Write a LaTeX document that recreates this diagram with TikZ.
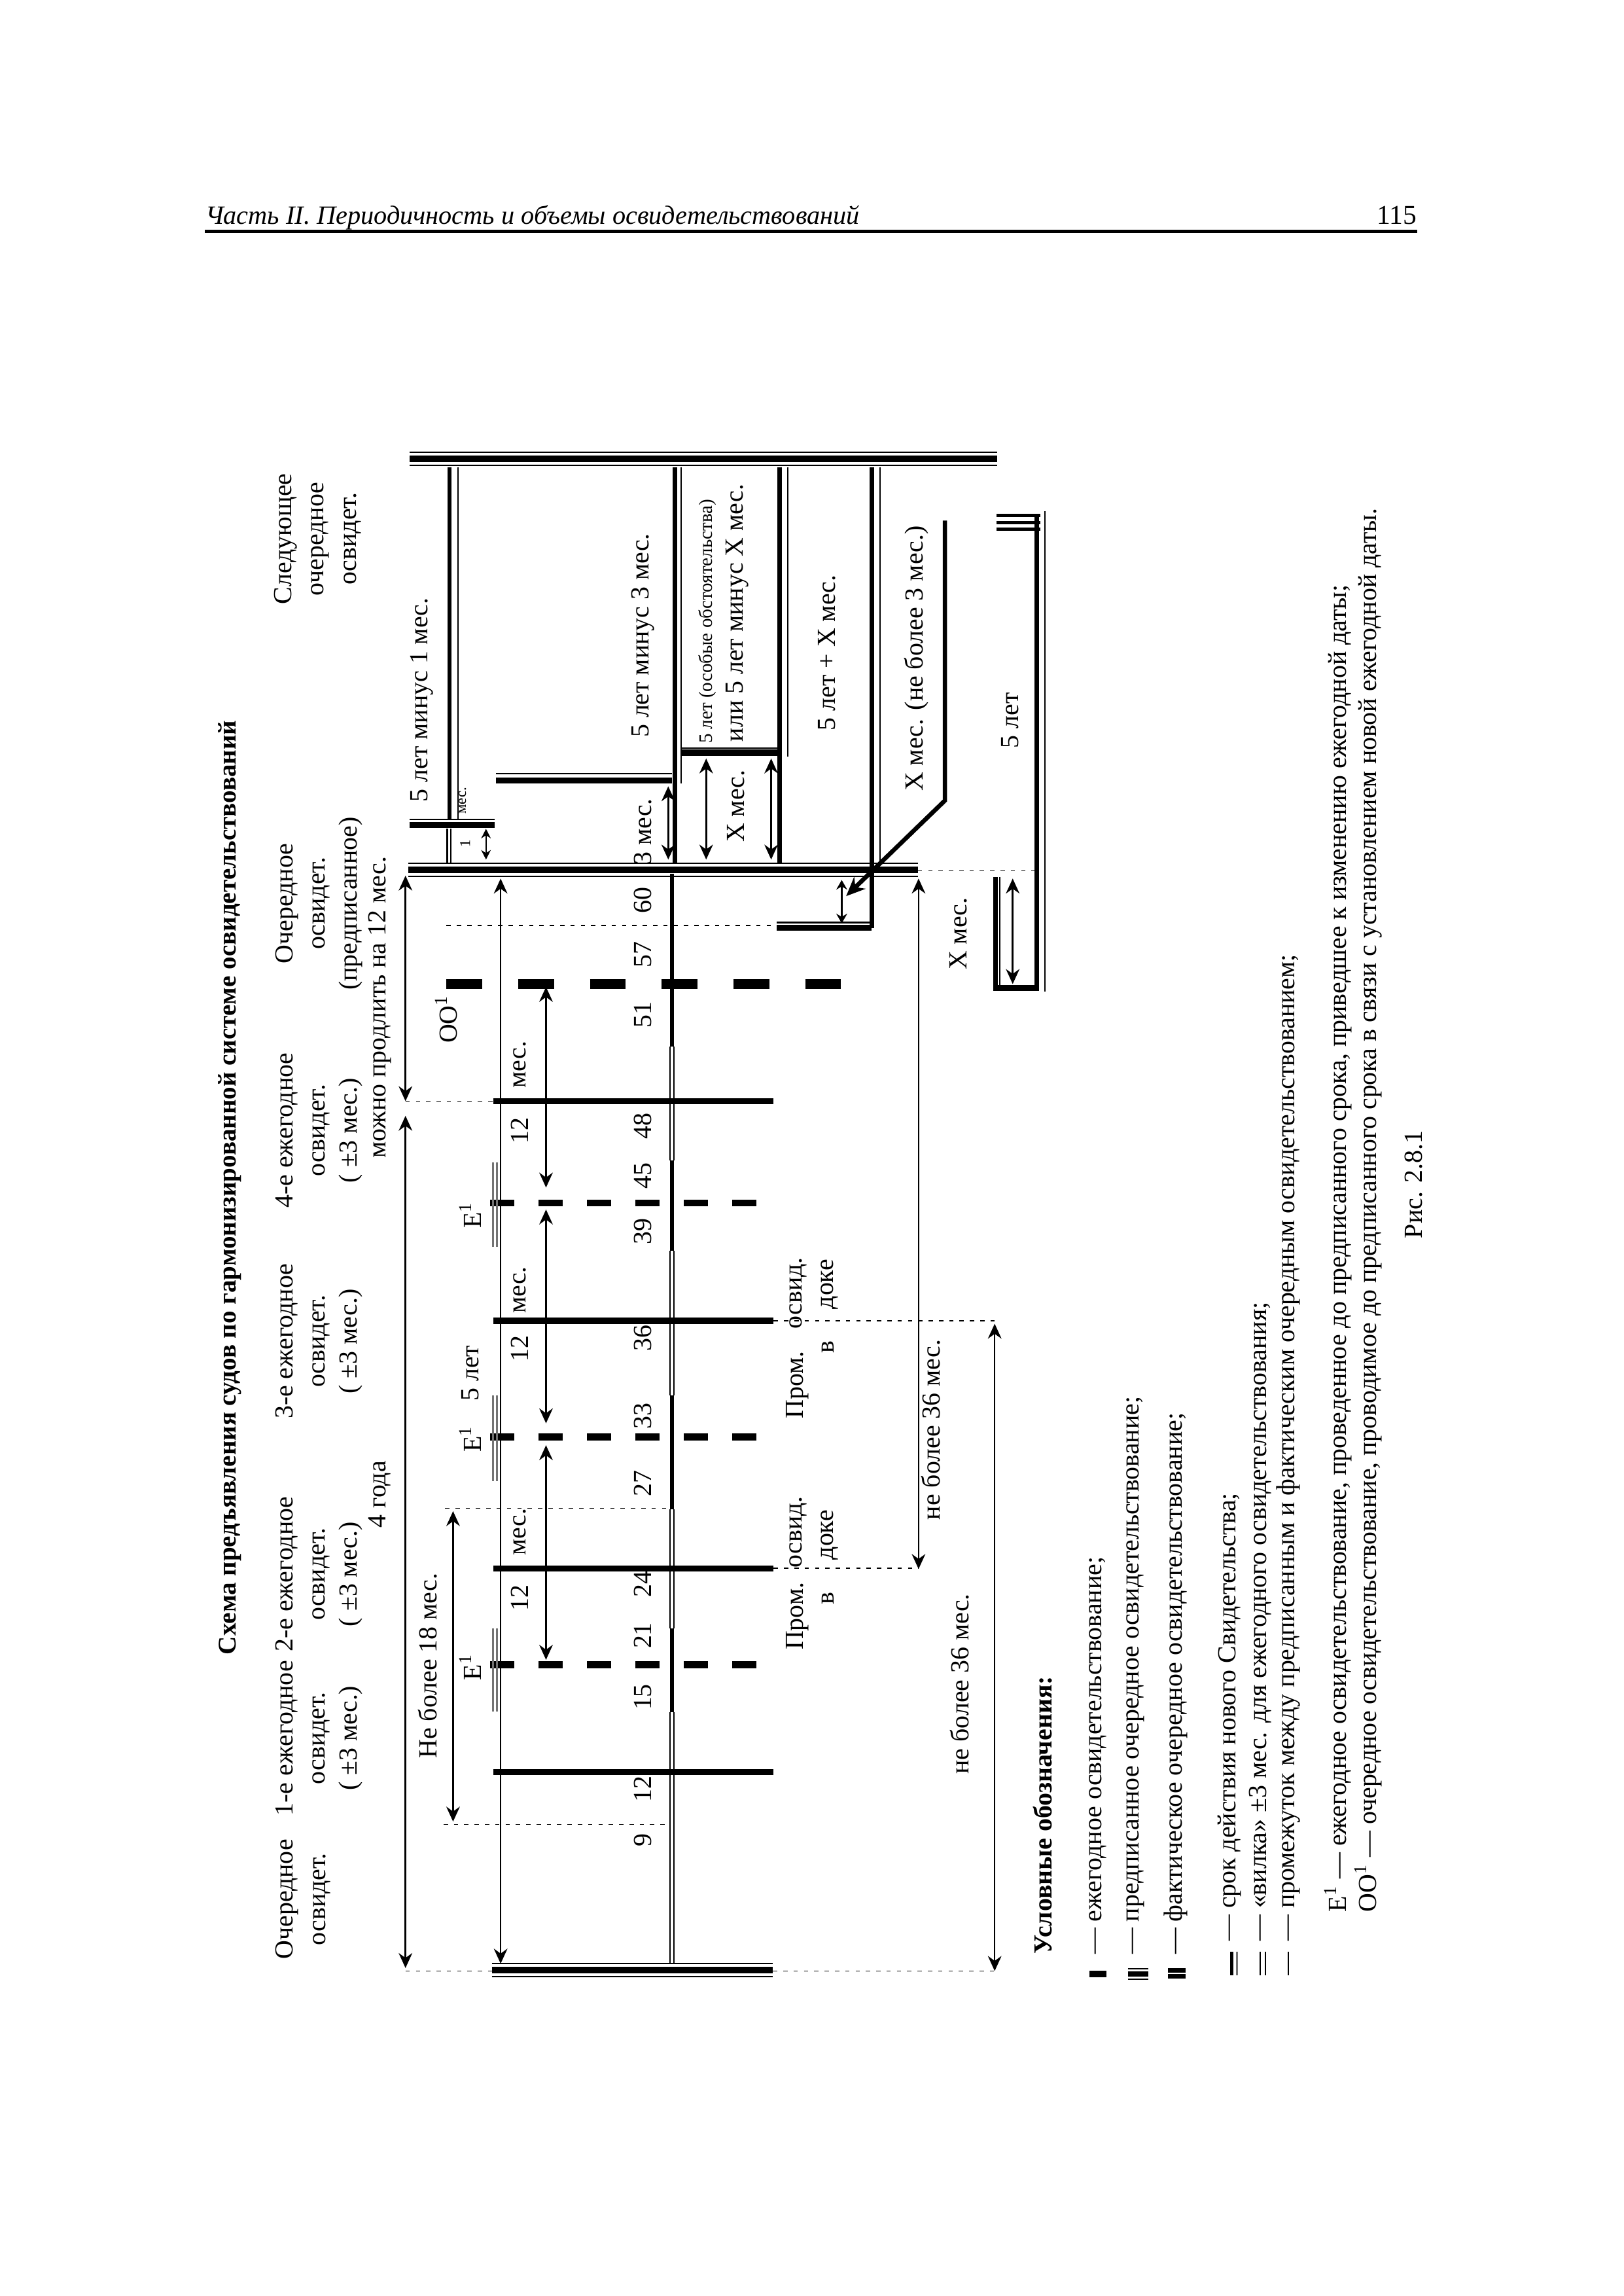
\documentclass[tikz,border=0pt]{standalone}
\usepackage{fontspec}
\setmainfont{Liberation Serif}
\usepackage{tikz}
\usetikzlibrary{
    arrows.meta,
    positioning,
    calc
}
\newcommand{\lblfont}{\fontsize{9.6}{11.85}\selectfont}
\newcommand{\boxfont}{\fontsize{7}{8}\selectfont}
\newcommand{\tinyfont}{\fontsize{5.5}{6.5}\selectfont}
\tikzset{
    vlab/.style={
        rotate=90, font=\lblfont, inner sep=0pt, align=center
    },
    vleg/.style={
        rotate=90, font=\lblfont, inner sep=0pt, anchor=west
    },
    annual/.style={line width=2.2pt},
    annualdash/.style={line width=2.6pt, dash pattern=on 8.9pt off 8.9pt},
    oodash/.style={line width=3.4pt, dash pattern=on 13.2pt off 13.2pt},
    guide/.style={line width=0.4pt, dash pattern=on 1.6pt off 2.2pt},
    dimarr/.style={
        {Stealth[length=5.5pt, width=5pt]}-{Stealth[length=5.5pt, width=5pt]},
        line width=0.6pt
    },
    hairl/.style={line width=0.5pt},
    heavy/.style={line width=1.6pt},
    bar/.style={line width=2.4pt},
    forkline/.style={black!55, line width=0.6pt},
}

\begin{document}
\begin{tikzpicture}[x=0.018936cm, y=-0.018936cm]
    \useasboundingbox (0,0) rectangle (1109,1568);

    % ── колонтитул ──────────────────────────────────────
    \node [anchor=base west, inner sep=0pt, font=\fontsize{9.7}{12}\selectfont\itshape]
        (runhead) at (140,153) {Часть II. Периодичность и объемы освидетельствований};
    \node [anchor=base east, inner sep=0pt, font=\fontsize{10}{12}\selectfont]
        (pageno) at (968,153) {115};
    \draw [line width=1.4pt] (140,158) -- (968,158);

    % ── заголовок и шапка колонок ───────────────────────
    \node [vlab, font=\fontsize{9.4}{11}\selectfont\bfseries] (title) at (157,811)
        {Схема предъявления судов по гармонизированной системе освидетельствований};
    \node [vlab] (hdrO)  at (207,1297) {Очередное\\освидет.};
    \node [vlab] (hdrA1) at (218,1187) {1-е ежегодное\\освидет.\\( ±3 мес.)};
    \node [vlab] (hdrA2) at (218,1075) {2-е ежегодное\\освидет.\\( ±3 мес.)};
    \node [vlab] (hdrA3) at (218,916)  {3-е ежегодное\\освидет.\\( ±3 мес.)};
    \node [vlab] (hdrA4) at (218,772)  {4-е ежегодное\\освидет.\\( ±3 мес.)};
    \node [vlab] (hdrOO) at (218,617)  {Очередное\\освидет.\\(предписанное)};
    \node [vlab] (hdrNx) at (217,368)  {Следующее\\очередное\\освидет.};

    % ── сроки очередных освидетельствований ─────────────
    \foreach \yy/\xa/\xb in {1345.5/336/528, 594/279/627, 313.5/280/681} {
        \draw [hairl] (\xa,\yy-4.5) -- (\xb,\yy-4.5);
        \draw [bar]   (\xa,\yy) -- (\xb,\yy);
        \draw [hairl] (\xa,\yy+4.5) -- (\xb,\yy+4.5);
    }

    % ── ежегодные освидетельствования ───────────────────
    \foreach \yy in {1210,1071,902,752}
        \draw [annual] (337,\yy) -- (528.5,\yy);
    \foreach \yy in {1137,981.5,821.5}
        \draw [annualdash] (335,\yy) -- (517,\yy);
    \draw [oodash] (305,672) -- (575,672);
    \foreach \ya/\yb in {1112/1169, 953/1011.6, 794/851.6}
        \draw [forkline] (336.8,\ya) -- (336.8,\yb) (339.4,\ya) -- (339.4,\yb);

    % ── ось сроков ──────────────────────────────────────
    \foreach \ya/\yb in {596.6/714.6, 792.7/854.3, 952.8/1030.8, 1112/1169.4}
        \draw [heavy] (459,\ya) -- (459,\yb);
    \foreach \ya/\yb in {714.6/792.7, 854.3/952.8, 1030.8/1112, 1169.4/1341}
        \draw [hairl] (457.6,\ya) -- (457.6,\yb) (460.4,\ya) -- (460.4,\yb);

    % ── вспомогательные линии ───────────────────────────
    \draw [guide] (277,752) -- (337.6,752);
    \draw [guide] (277,1346) -- (336,1346);
    \draw [guide] (303,1246) -- (456,1246);
    \draw [guide] (304,1030) -- (458,1030);
    \draw [guide] (305,632) -- (530.6,632);
    \draw [guide] (528.5,1071) -- (627.5,1071);
    \draw [guide] (528.5,902) -- (679.5,902);
    \draw [guide] (528,1346) -- (679.5,1346);
    \draw [guide] (627,594.7) -- (706.5,594.7);

    % ── размерные стрелки ───────────────────────────────
    \draw [dimarr] (277,598) -- (277,752);
    \draw [dimarr] (277,762) -- (277,1344);
    \draw [dimarr] (309.5,1032) -- (309.5,1244);
    \draw [dimarr] (342,600) -- (342,1341);
    \draw [dimarr] (373,674) -- (373,811);
    \draw [dimarr] (373,826) -- (373,972);
    \draw [dimarr] (373,987) -- (373,1133.5);
    \draw [dimarr] (627.5,600) -- (627.5,1071.5);
    \draw [dimarr] (679.5,904) -- (679.5,1346);
    \draw [dimarr] (691.8,600) -- (691.8,672);
    \draw [dimarr] (482.4,518) -- (482.4,587);
    \draw [dimarr] (526.8,518) -- (526.8,587);
    \draw [dimarr] (456.5,537) -- (456.5,587);
    \draw [dimarr, {Stealth[length=3.5pt, width=3.5pt]}-{Stealth[length=3.5pt, width=3.5pt]}]
        (332,566) -- (332,587);
    \draw [dimarr, {Stealth[length=3.5pt, width=4pt]}-{Stealth[length=3.5pt, width=4pt]}]
        (575,601) -- (575,630.5);

    % ── срок действия нового Свидетельства ──────────────
    \draw [heavy] (307,319) -- (307,559.5);
    \draw [hairl] (313,319) -- (313,559.5);
    \draw [hairl] (305.5,566) -- (305.5,589) (308,566) -- (308,589);
    \draw [hairl] (279.6,559.5) -- (338,559.5);
    \draw [annual] (279.6,563.5) -- (338,563.5);
    \draw [hairl] (339,528.5) -- (459,528.5);
    \draw [annual] (339,533) -- (459,533);
    \draw [heavy] (461,319) -- (461,589);
    \draw [hairl] (465.5,319) -- (465.5,535);
    \draw [hairl] (465.5,510.7) -- (532.6,510.7);
    \draw [annual] (465.5,514) -- (532.6,514);
    \draw [heavy] (532.6,319) -- (532.6,589);
    \draw [hairl] (538,319) -- (538,516.5);
    \draw [heavy] (595.5,319) -- (595.5,633.7);
    \draw [hairl] (601,319) -- (601,589);
    \draw [hairl] (530.6,630) -- (595.5,630);
    \draw [annual] (530.6,633.7) -- (595.5,633.7);
    \draw [heavy, -{Stealth[length=7pt, width=6pt]}]
        (645.5,355.5) -- (645.5,546.7) -- (578,612);
    % правый блок
    \draw [heavy] (680,599) -- (680,676.6);
    \draw [hairl] (683,599) -- (683,676.6);
    \draw [annual] (680,674.8) -- (708.3,674.8);
    \draw [heavy] (708.3,352) -- (708.3,676.6);
    \draw [hairl] (714,349) -- (714,677);
    \foreach \yy in {352,357,361.5}
        \draw [line width=1.2pt] (680.6,\yy) -- (710.5,\yy);

    % ── подписи ─────────────────────────────────────────
    \node [vlab] (lbl4y)   at (259.4,1020.5) {4 года};
    \node [vlab] (lblext)  at (259.4,688)    {можно продлить на 12 мес.};
    \node [vlab] (lbl18)   at (292.2,1137.6) {Не более 18 мес.};
    \node [vlab] (lbl5m1)  at (288,478)      {5 лет минус 1 мес.};
    \node [vlab, font=\tinyfont] (lbl1m)  at (317.7,576) {1};
    \node [vlab, font=\tinyfont] (lbl1mm) at (316,546.7) {мес.};
    \node [vlab] (lblE1)   at (321.3,1138.5) {Е\textsuperscript{1}};
    \node [vlab] (lblE2)   at (321.3,982.6)  {Е\textsuperscript{1}};
    \node [vlab] (lblE3)   at (321.3,829.8)  {Е\textsuperscript{1}};
    \node [vlab] (lbl5y)   at (321.3,937.8)  {5 лет};
    \node [vlab] (lblOO)   at (305,696)      {ОО\textsuperscript{1}};
    \foreach \yy/\yb [count=\i] in {1091.4/1046.2, 921/881, 772/727} {
        \node [vlab] (twelve\i) at (355,\yy) {12};
        \node [vlab] (mes\i)    at (355,\yb) {мес.};
    }
    \foreach \mm/\yy in {9/1256.6, 12/1222, 15/1159, 21/1117, 24/1082, 27/1013,
                         33/967, 36/914, 39/841, 45/803, 48/769, 51/693, 57/652, 60/615}
        \node [vlab] (m\mm) at (439,\yy) {\mm};
    \node [vlab] (lbl5m3)  at (439,434)   {5 лет минус 3 мес.};
    \node [vlab] (lbl3m)   at (439,568)   {3 мес.};
    \node [vlab, font=\boxfont] (lblspec) at (483.4,424.4) {5 лет (особые обстоятельства)};
    \node [vlab] (lblor)   at (503.6,418.6) {или 5 лет минус Х мес.};
    \node [vlab] (lblXa)   at (502.6,550.5) {Х мес.};
    \node [vlab] (lbl5pX)  at (564.8,445.8) {5 лет + Х мес.};
    \node [vlab] (lblX3)   at (626,449.7)   {Х мес. (не более 3 мес.)};
    \node [vlab] (lbl5yR)  at (690,492)     {5 лет};
    \node [vlab] (lblXb)   at (654.6,637.7) {Х мес.};
    \node [vlab] (lbl36a)  at (636,976.4)   {не более 36 мес.};
    \node [vlab] (lbl36b)  at (655.5,1150)  {не более 36 мес.};
    \foreach \ya/\yb/\yc/\yd [count=\i] in {1103.7/1046.2/1091.4/1048.2, 945.7/883/920/877} {
        \node [vlab] (prom\i) at (544.5,\ya) {Пром.};
        \node [vlab] (osv\i)  at (545.4,\yb) {освид.};
        \node [vlab] (vv\i)   at (565.7,\yc) {в};
        \node [vlab] (dok\i)  at (566.6,\yd) {доке};
    }

    % ── условные обозначения ────────────────────────────
    \node [vleg, font=\lblfont\bfseries] (legtitle) at (712.3,1335) {Условные обозначения:};
    \fill (744,1346) rectangle (756,1350.5);
    \draw [line width=0.5pt] (770.5,1344.3) -- (784.5,1344.3);
    \draw [line width=1.8pt] (770.5,1348) -- (784.5,1348);
    \draw [line width=0.5pt] (770.5,1351.7) -- (784.5,1351.7);
    \fill (797.7,1344) rectangle (809.8,1351);
    \draw [white, line width=0.5pt] (797.7,1347.5) -- (809.8,1347.5);
    \node [vleg] (leg1) at (750,1335)   {— ежегодное освидетельствование;};
    \node [vleg] (leg2) at (775.5,1335) {— предписанное очередное освидетельствование;};
    \node [vleg] (leg3) at (803,1335)   {— фактическое очередное освидетельствование;};
    \draw [line width=1.2pt] (841.5,1333) -- (841.5,1349);
    \draw [forkline] (845,1333) -- (845,1349);
    \draw [hairl] (860.8,1333) -- (860.8,1349) (864.6,1333) -- (864.6,1349);
    \draw [hairl] (880,1333) -- (880,1349);
    \node [vleg] (leg4) at (840,1326) {— срок действия нового Свидетельства;};
    \node [vleg] (leg5) at (861,1326) {— «вилка» ±3 мес. для ежегодного освидетельствования;};
    \node [vleg] (leg6) at (880,1326)
        {— промежуток между предписанным и фактическим очередным освидетельствованием;};
    \node [vleg] (leg7) at (914,1306)
        {Е\textsuperscript{1} — ежегодное освидетельствование, проведенное до предписанного срока, приведшее к изменению ежегодной даты;};
    \node [vleg] (leg8) at (934.6,1306)
        {ОО\textsuperscript{1} — очередное освидетельствование, проводимое до предписанного срока в связи с установлением новой ежегодной даты.};
    \node [vlab] (figcap) at (965.5,809) {Рис. 2.8.1};

\end{tikzpicture}
\end{document}
